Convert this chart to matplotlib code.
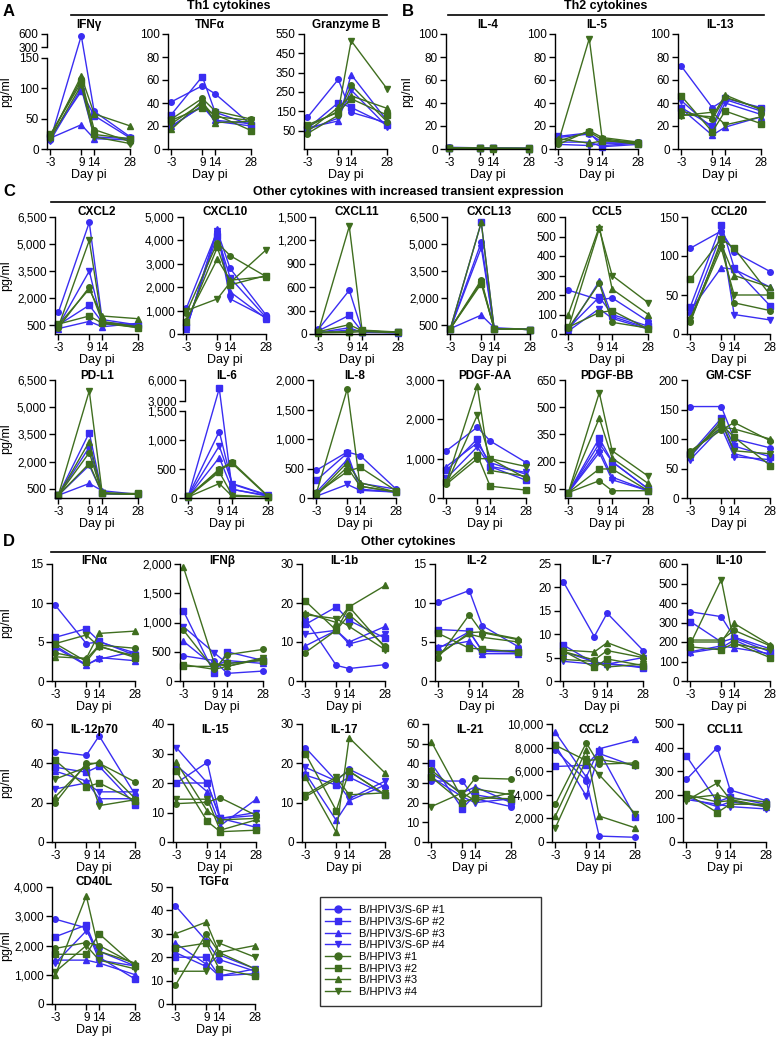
import numpy as np
import matplotlib.pyplot as plt
from matplotlib.ticker import FuncFormatter
from matplotlib.lines import Line2D
from matplotlib.patches import Rectangle

plt.rcParams['font.family'] = ['Liberation Sans', 'DejaVu Sans']

days = [-3, 9, 14, 28]
day_labels = ['-3', '9', '14', '28']
groups = ['B/HPIV3/S-6P #1', 'B/HPIV3/S-6P #2', 'B/HPIV3/S-6P #3', 'B/HPIV3/S-6P #4',
          'B/HPIV3 #1', 'B/HPIV3 #2', 'B/HPIV3 #3', 'B/HPIV3 #4']

# values per animal (4 S-6P, then 4 B/HPIV3), days -3, 9, 14, 28
ifng = [[15, 560, 62, 20], [20, 95, 55, 18], [18, 40, 17, 15], [14, 100, 20, 17],
        [22, 115, 32, 12], [24, 110, 24, 17], [20, 120, 58, 38], [17, 105, 20, 9]]
tnfa = [[41, 55, 48, 21], [30, 63, 32, 21], [20, 37, 25, 22], [19, 38, 24, 20],
        [26, 44, 33, 26], [25, 36, 30, 16], [17, 42, 23, 24], [22, 40, 28, 25]]
gzmb = [[118, 315, 145, 90], [60, 195, 170, 80], [65, 100, 340, 100], [55, 115, 260, 70],
        [35, 130, 285, 95], [80, 145, 215, 130], [45, 170, 230, 165], [70, 150, 515, 265]]
il4 = [[1.5, 1, 0.8, 0.5], [1, 0.8, 0.6, 0.5], [0.8, 0.6, 0.5, 0.4], [0.6, 0.5, 0.5, 0.4],
       [0.8, 0.5, 0.6, 0.5], [1, 0.6, 0.5, 0.4], [0.7, 0.5, 0.4, 0.4], [0.9, 0.7, 0.6, 0.5]]
il5 = [[10, 13, 6, 6], [11, 14, 3, 5], [6, 6, 2, 4], [4, 3, 5, 5],
       [4, 16, 10, 6], [7, 15, 8, 4], [9, 5, 7, 6], [6, 96, 9, 5]]
il13 = [[72, 36, 43, 33], [36, 20, 44, 36], [35, 12, 19, 28], [42, 18, 40, 30],
        [33, 26, 45, 35], [46, 15, 33, 22], [30, 28, 47, 34], [29, 32, 21, 28]]
cxcl2 = [[1200, 6200, 800, 500], [500, 1600, 650, 500], [300, 700, 400, 600], [450, 3500, 550, 450],
         [350, 2600, 700, 400], [550, 1000, 600, 350], [500, 2500, 1000, 850], [400, 5200, 650, 350]]
cxcl10 = [[1100, 4400, 2800, 800], [300, 4200, 2400, 700], [200, 4500, 1800, 650], [250, 4400, 1500, 700],
          [900, 3900, 3350, 2450], [500, 3700, 2100, 2500], [600, 3200, 2300, 2450], [1000, 1500, 2200, 3600]]
cxcl11 = [[60, 560, 40, 20], [40, 240, 30, 20], [20, 80, 20, 15], [20, 50, 30, 15],
          [30, 120, 40, 20], [25, 30, 50, 25], [15, 20, 30, 20], [30, 1380, 40, 20]]
cxcl13 = [[300, 5100, 300, 250], [300, 6200, 300, 250], [300, 1050, 350, 250], [300, 4800, 300, 250],
          [300, 3000, 300, 250], [300, 2800, 300, 250], [300, 6200, 300, 250], [300, 2900, 300, 250]]
ccl5 = [[225, 175, 185, 65], [30, 190, 100, 40], [20, 270, 90, 30], [15, 130, 80, 25],
        [30, 260, 60, 30], [35, 110, 120, 25], [100, 550, 230, 100], [30, 540, 300, 160]]
ccl20 = [[110, 132, 105, 80], [35, 140, 85, 36], [30, 85, 83, 60], [25, 128, 25, 18],
         [15, 120, 40, 30], [70, 122, 110, 50], [20, 115, 75, 60], [18, 110, 50, 50]]
pdl1 = [[150, 2800, 250, 200], [150, 3600, 250, 200], [150, 800, 400, 200], [150, 1800, 250, 200],
        [150, 2500, 250, 200], [150, 1900, 250, 250], [150, 3100, 250, 200], [150, 5900, 300, 200]]
il6 = [[40, 1150, 240, 40], [30, 4800, 150, 40], [20, 700, 150, 30], [30, 900, 250, 50],
       [20, 500, 620, 30], [30, 480, 600, 20], [25, 450, 50, 20], [20, 250, 30, 20]]
il8 = [[470, 780, 720, 150], [300, 760, 150, 100], [100, 650, 250, 150], [30, 230, 130, 100],
       [80, 1850, 200, 100], [80, 450, 520, 120], [60, 600, 260, 100], [50, 520, 200, 100]]
pdgfaa = [[1200, 1800, 1450, 900], [700, 1500, 800, 450], [800, 1400, 900, 600], [500, 1300, 800, 650],
          [350, 1000, 1000, 500], [400, 1100, 300, 200], [400, 2850, 700, 550], [350, 2100, 1000, 800]]
pdgfbb = [[30, 300, 200, 50], [30, 330, 200, 50], [30, 270, 115, 40], [30, 250, 100, 40],
          [30, 95, 40, 40], [30, 160, 160, 40], [30, 440, 220, 80], [30, 580, 260, 120]]
gmcsf = [[155, 155, 100, 85], [75, 135, 88, 70], [70, 130, 75, 60], [65, 120, 70, 65],
         [80, 115, 128, 97], [75, 125, 103, 55], [78, 120, 117, 100], [72, 130, 80, 75]]
ifna = [[9.7, 4.8, 5.0, 3.6], [5.6, 6.7, 5.1, 3.3], [4.3, 2.0, 3.0, 2.6], [4.5, 2.1, 2.8, 3.8],
        [3.6, 2.8, 4.6, 4.2], [4.8, 2.5, 4.5, 3.0], [3.1, 2.9, 6.1, 6.4], [4.8, 5.9, 4.4, 3.2]]
ifnb = [[430, 350, 130, 170], [1200, 130, 500, 350], [680, 250, 350, 300], [930, 480, 300, 360],
        [870, 200, 450, 540], [250, 250, 300, 350], [1950, 300, 250, 380], [280, 200, 250, 400]]
il1b = [[15.8, 4, 3.2, 4.2], [14.5, 19, 15.5, 11], [9, 13, 10, 14], [12, 13, 9.5, 12],
        [7.3, 13, 17, 9], [20.5, 13, 19, 8.5], [17.5, 15, 19, 24.5], [17, 16, 14, 8]]
il2 = [[10.1, 11.6, 7.1, 4.4], [6.6, 6.4, 3.8, 3.7], [4.4, 5.1, 3.5, 3.5], [4.2, 6.3, 3.9, 3.9],
       [3.0, 8.5, 6.2, 5.3], [6.1, 4.2, 4.1, 3.7], [3.3, 6.2, 6.3, 5.4], [3.5, 6.0, 5.6, 5.0]]
il7 = [[21.2, 9.5, 14.5, 6.5], [7.7, 3.8, 3.8, 2.8], [6.3, 4.1, 3.6, 3.0], [4.2, 3.6, 3.6, 5.0],
       [6.3, 4.5, 6.5, 5.0], [6.4, 2.9, 4.7, 3.3], [6.6, 6.2, 8.2, 5.3], [4.6, 4.2, 3.0, 3.6]]
il10 = [[355, 330, 225, 165], [305, 200, 220, 150], [150, 180, 170, 140], [145, 170, 210, 130],
        [210, 210, 260, 180], [175, 160, 195, 120], [200, 200, 295, 185], [190, 520, 190, 160]]
il12 = [[46, 44, 54, 24], [38, 35.5, 38.5, 19], [36, 31, 22, 22], [27, 30, 25.5, 25.5],
        [20, 40, 40, 30.5], [41.5, 28, 30, 21], [23, 39, 40.5, 22], [32, 38, 18.5, 21.5]]
il15 = [[20, 27, 8, 9], [20, 20, 8, 5], [26, 17, 5.5, 14.5], [32, 20, 8, 10],
        [13, 13.5, 15, 9], [24, 7, 3.5, 4], [27, 10.5, 7.5, 8], [14.5, 14.5, 4, 7.5]]
il17 = [[24, 15.5, 18.5, 14], [17, 14.5, 16.5, 12], [17.5, 5.5, 10.5, 14.5], [19, 15.5, 11, 15.5],
        [11.5, 16, 18, 12], [22.5, 8, 18, 12], [16.5, 2.5, 26.5, 17.5], [12, 16.5, 12, 12.5]]
il21 = [[31, 31, 22, 18], [40, 17, 24, 21], [35, 25, 28, 20], [33, 23, 20, 22],
        [36.5, 24, 32.5, 32], [33, 20, 22.5, 22], [51, 22, 27, 24], [18, 25, 21, 25]]
ccl2 = [[7800, 5200, 500, 400], [6400, 6500, 7700, 2100], [9300, 5500, 7900, 8700], [8200, 3900, 7500, 6400],
        [3200, 8400, 6600, 6700], [8200, 6900, 7000, 6500], [2200, 7800, 2200, 1200], [1200, 7000, 5700, 2400]]
ccl11 = [[265, 400, 220, 175], [365, 170, 190, 160], [190, 150, 170, 150], [180, 160, 150, 140],
         [200, 170, 175, 150], [205, 125, 160, 160], [185, 200, 185, 170], [175, 250, 180, 150]]
cd40l = [[2900, 2600, 1500, 1300], [2300, 2700, 1600, 850], [1500, 1500, 1400, 1000], [1400, 2500, 1800, 1300],
         [1900, 2100, 2000, 1350], [1700, 1700, 2400, 1300], [1000, 3700, 1800, 1400], [1100, 2000, 1500, 1200]]
tgfa = [[42, 27, 19, 14], [20, 20, 12, 13], [26, 17, 12, 15], [22, 16, 21, 15],
        [8, 30, 22, 15], [24, 26, 15, 12], [30, 35, 22, 25], [14, 14, 26, 20]]

W, H = 778, 1037
AW = 84
BLUE = '#3a2df2'
GREEN = '#3f6e1f'
colors = [BLUE] * 4 + [GREEN] * 4
markers = ['o', 's', '^', 'v'] * 2

fig = plt.figure(figsize=(W / 100, H / 100), dpi=100)


def broken(lo, hi, top, lower_px, gap_px, top_px):
    g = gap_px / lower_px * lo
    t = top_px / lower_px * lo

    def fwd(v):
        v = np.asarray(v, dtype=float)
        return np.where(v <= lo, v, np.where(v <= hi, lo + (v - lo) * g / (hi - lo),
                                             lo + g + (v - hi) * t / (top - hi)))

    def inv(u):
        u = np.asarray(u, dtype=float)
        return np.where(u <= lo, u, np.where(u <= lo + g, lo + (u - lo) * (hi - lo) / g,
                                             hi + (u - lo - g) * (top - hi) / t))
    return fwd, inv


def panel(x0, top, bottom, title, vals, ylim, ticks, tdy, ylabel=False, brk=None):
    h = bottom - top
    ax = fig.add_axes([x0 / W, 1 - bottom / H, AW / W, h / H])
    if brk is not None:
        ax.set_yscale('function', functions=broken(*brk))
    for i, v in enumerate(vals):
        ax.plot(days, v, color=colors[i], marker=markers[i], ms=4, lw=1, clip_on=False)
    ax.set_xlim(-4.3, 28.3)
    ax.set_ylim(*ylim)
    ax.set_yticks(ticks)
    ax.yaxis.set_major_formatter(FuncFormatter(lambda v, p: f'{v:,.0f}'))
    ax.yaxis.set_minor_locator(plt.NullLocator())
    ax.set_xticks(days)
    ax.set_xticklabels(day_labels)
    ax.tick_params(labelsize=8.5, length=4, width=1, pad=2)
    for s in ['top', 'right']:
        ax.spines[s].set_visible(False)
    for s in ['left', 'bottom']:
        ax.spines[s].set_linewidth(1)
    ax.spines['bottom'].set_bounds(-4.3, 28)
    if brk is not None:
        lo, hi = brk[0], brk[1]
        ax.spines['left'].set_bounds(ylim[0], lo)
        ax.plot([0, 0], [hi, ylim[1]], color='k', lw=1, clip_on=False,
                transform=ax.get_yaxis_transform())
    ax.text(0.5, 1 + tdy / h, title, transform=ax.transAxes, ha='center', va='center',
            fontsize=8.5, fontweight='bold')
    ax.set_xlabel('Day pi', fontsize=9, labelpad=0)
    if ylabel:
        ax.set_ylabel('pg/ml', fontsize=9)
        ax.yaxis.set_label_coords((12 - x0) / AW, 0.5)
    return ax


# row A / B
tA, bA = 34, 149
panel(47, tA, bA, 'IFNγ', ifng, (0, 600), [0, 50, 100, 150, 300, 600], 9, True,
      brk=(150, 300, 600, 91, 11, 13))
panel(168, tA, bA, 'TNFα', tnfa, (0, 100), range(0, 101, 20), 9)
panel(304, tA, bA, 'Granzyme B', gzmb, (-45, 550), range(50, 551, 100), 9)
ax = panel(446, tA, bA, 'IL-4', il4, (0, 100), range(0, 101, 20), 9, True)
ax.yaxis.set_label_coords((413 - 446) / AW, 0.5)
panel(555, tA, bA, 'IL-5', il5, (0, 100), range(0, 101, 20), 9)
panel(678, tA, bA, 'IL-13', il13, (0, 100), range(0, 101, 20), 9)

# row C1
t1, b1 = 217, 334
panel(55, t1, b1, 'CXCL2', cxcl2, (0, 6500), range(500, 6501, 1500), 5, True)
panel(183, t1, b1, 'CXCL10', cxcl10, (0, 5000), range(0, 5001, 1000), 5)
panel(315, t1, b1, 'CXCL11', cxcl11, (0, 1500), range(0, 1501, 300), 5)
panel(447, t1, b1, 'CXCL13', cxcl13, (0, 6500), range(500, 6501, 1500), 5)
panel(565, t1, b1, 'CCL5', ccl5, (0, 600), range(0, 601, 100), 5)
panel(687, t1, b1, 'CCL20', ccl20, (0, 150), range(0, 151, 50), 5)

# row C2
t2, b2 = 380, 498
panel(55, t2, b2, 'PD-L1', pdl1, (0, 6500), range(500, 6501, 1500), 4, True)
panel(185, t2, b2, 'IL-6', il6, (0, 6000), [0, 500, 1000, 1500, 3000, 6000], 4,
      brk=(1500, 3000, 6000, 86, 10, 21))
panel(313, t2, b2, 'IL-8', il8, (0, 2000), range(0, 2001, 500), 4)
panel(443, t2, b2, 'PDGF-AA', pdgfaa, (0, 3000), range(0, 3001, 1000), 4)
panel(565, t2, b2, 'PDGF-BB', pdgfbb, (0, 650), range(50, 651, 150), 4)
panel(687, t2, b2, 'GM-CSF', gmcsf, (0, 200), range(0, 201, 50), 4)

# row D1
t3, b3 = 564, 681
panel(52, t3, b3, 'IFNα', ifna, (0, 15), range(0, 16, 5), 3, True)
panel(180, t3, b3, 'IFNβ', ifnb, (0, 2000), range(0, 2001, 500), 3)
panel(302, t3, b3, 'IL-1b', il1b, (0, 30), range(0, 31, 10), 3)
panel(435, t3, b3, 'IL-2', il2, (0, 15), range(0, 16, 5), 3)
panel(560, t3, b3, 'IL-7', il7, (0, 25), range(0, 26, 5), 3)
panel(687, t3, b3, 'IL-10', il10, (0, 600), range(0, 601, 100), 3)

# row D2
t4, b4 = 724, 842
panel(52, t4, b4, 'IL-12p70', il12, (0, 60), range(0, 61, 20), -6, True)
panel(173, t4, b4, 'IL-15', il15, (0, 40), range(0, 41, 10), -6)
panel(302, t4, b4, 'IL-17', il17, (0, 30), range(0, 31, 10), -6)
panel(428, t4, b4, 'IL-21', il21, (0, 60), range(0, 61, 10), -6)
panel(552, t4, b4, 'CCL2', ccl2, (0, 10000), range(0, 10001, 2000), -6)
panel(683, t4, b4, 'CCL11', ccl11, (0, 500), range(0, 501, 100), -6)

# row D3
t5, b5 = 887, 1004
panel(52, t5, b5, 'CD40L', cd40l, (0, 4000), range(0, 4001, 1000), 5, True)
panel(172, t5, b5, 'TGFα', tgfa, (0, 50), range(0, 51, 10), 5)


def header(text, x0, x1, y_line, y_text):
    fig.add_artist(Line2D([x0 / W, x1 / W], [1 - y_line / H] * 2, color='k', lw=1.2))
    fig.text((x0 + x1) / 2 / W, 1 - y_text / H, text, ha='center', va='center',
             fontsize=9, fontweight='bold')


header('Th1 cytokines', 71, 387, 15, 6)
header('Th2 cytokines', 448, 764, 15, 6)
header('Other cytokines with increased transient expression', 51, 765, 202, 192)
header('Other cytokines', 51, 765, 552, 542)

for letter, x, y in [('A', 3, 11), ('B', 402, 11), ('C', 3, 192), ('D', 3, 542)]:
    fig.text(x / W, 1 - y / H, letter, ha='left', va='center', fontsize=12, fontweight='bold')

handles = [Line2D([], [], color=colors[i], marker=markers[i], ms=5, lw=1) for i in range(8)]
fig.legend(handles, groups, loc='upper left', bbox_to_anchor=(317 / W, 1 - 897 / H),
           frameon=False, fontsize=8, handlelength=2.2, labelspacing=0.15,
           borderpad=0.25, handletextpad=0.8)
fig.add_artist(Rectangle((320 / W, 1 - 1006 / H), 221 / W, 109 / H, fill=False,
                         ec='#333333', lw=1, transform=fig.transFigure))

fig.savefig('out.png', dpi=100)
